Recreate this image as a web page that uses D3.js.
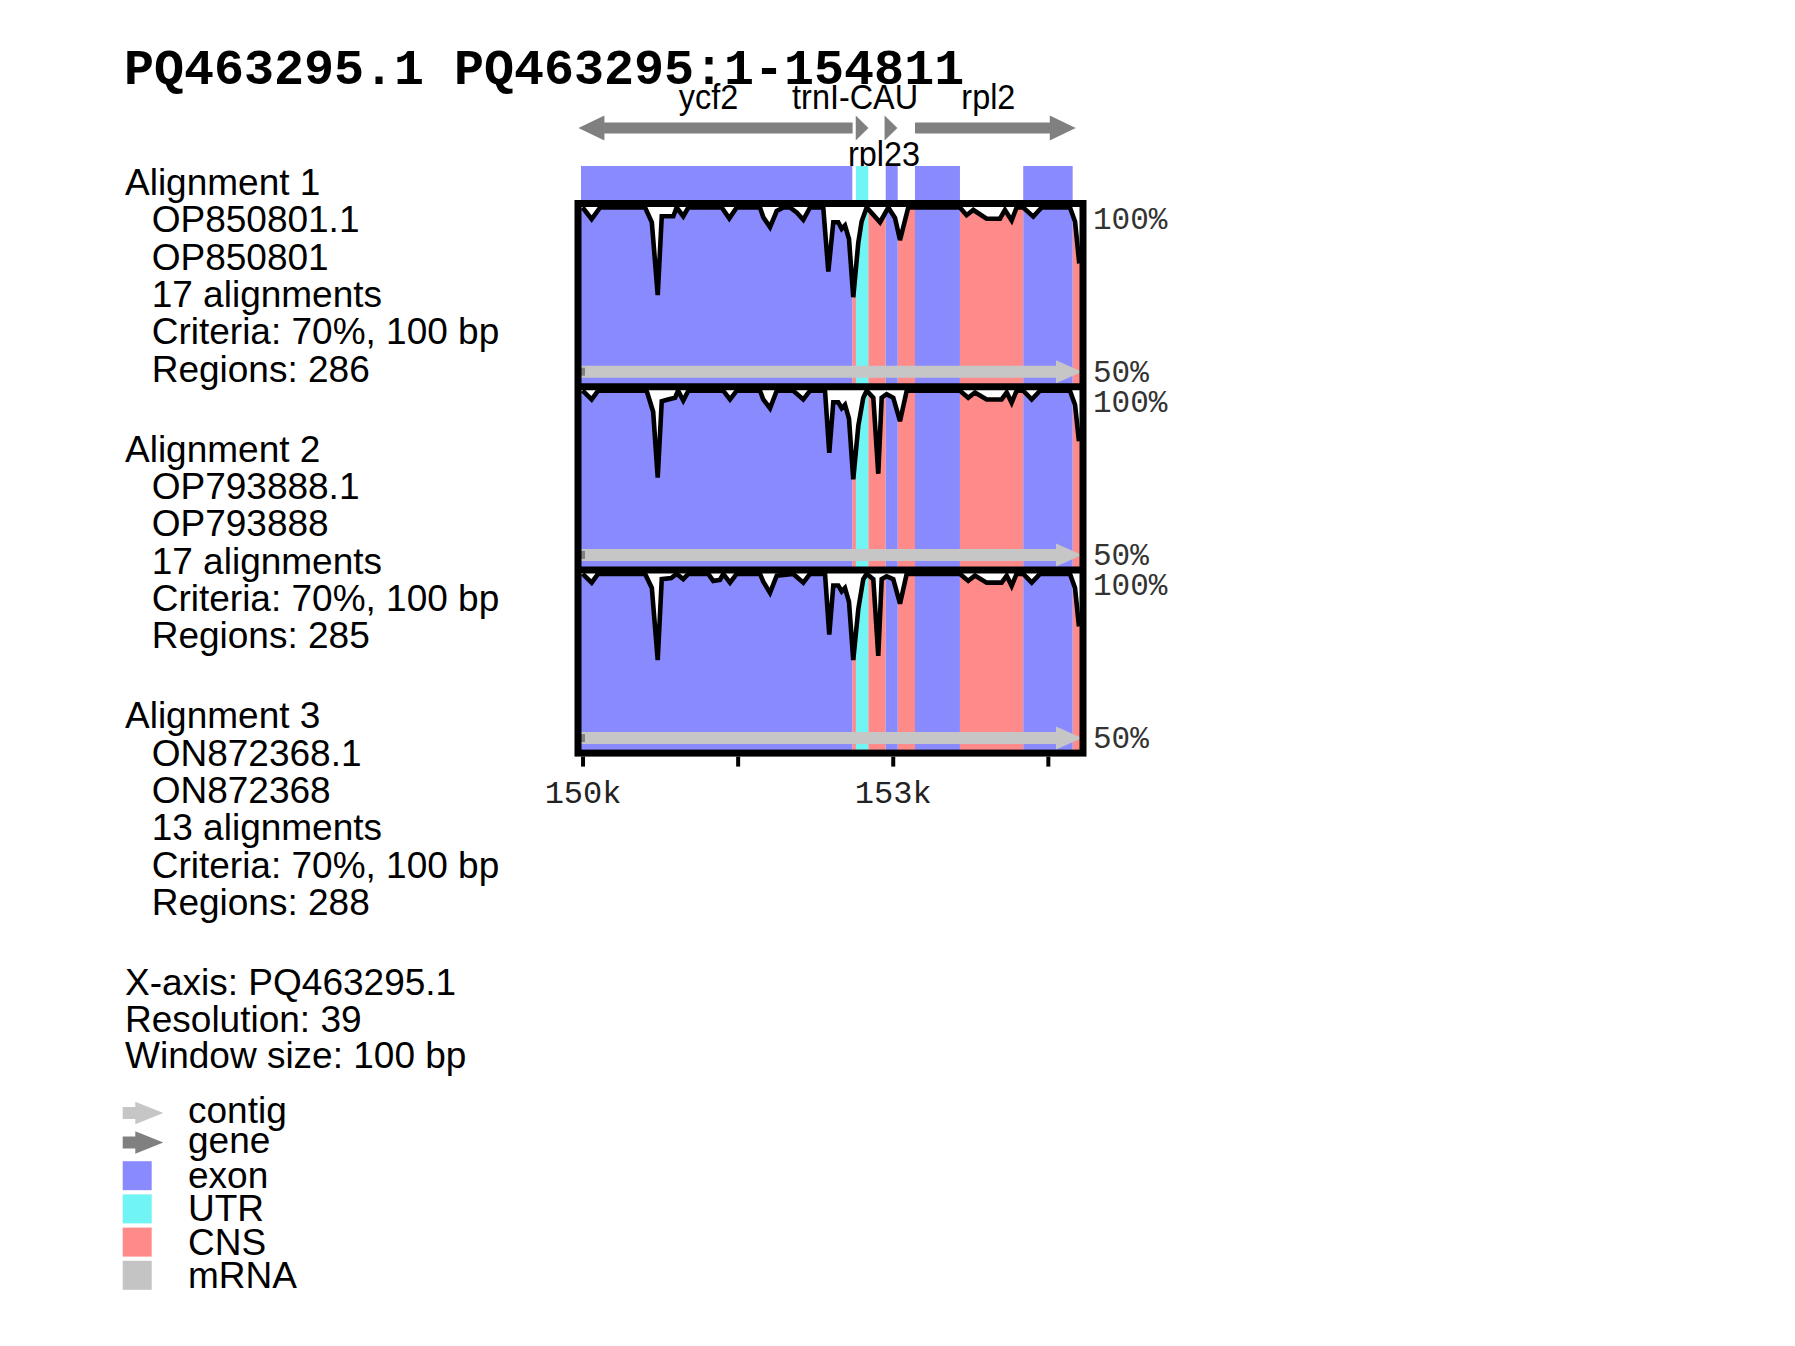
<!DOCTYPE html>
<html>
<head>
<meta charset="utf-8">
<script src="https://cdn.jsdelivr.net/npm/d3@7"></script>
<style>
  html, body { margin: 0; background: #fff; }
  svg { display: block; }
</style>
</head>
<body>
<div id="chart"></div>
<script>
// ---- data ----
const title = "PQ463295.1 PQ463295:1-154811";
const seqStart = 149985, seqEnd = 154811;
const axisTicks  = [150000, 151500, 153000, 154500];
const axisLabels = ["150k", "", "153k", ""];

const genes = [
  { name: "ycf2",     start: 149960, end: 152612, strand: -1 },
  { name: "trnI-CAU", start: 152642, end: 152765, strand: 1 },
  { name: "rpl23",    start: 152921, end: 153045, strand: 1 },
  { name: "rpl2",     start: 153215, end: 154770, strand: 1 }
];
const exons = [[149985, 152609], [152932, 153048], [153215, 153650], [154262, 154740]];
const utrs  = [[152644, 152763]];
const cns   = [[152609, 152644], [152763, 152932], [153048, 153215], [153650, 154262], [154740, 154811]];

const alignments = [
  { label: "Alignment 1", acc: "OP850801.1", name: "OP850801", count: 17, regions: 286 },
  { label: "Alignment 2", acc: "OP793888.1", name: "OP793888", count: 17, regions: 285 },
  { label: "Alignment 3", acc: "ON872368.1", name: "ON872368", count: 13, regions: 288 }
];
const criteria = "70%, 100 bp";
const footerLines = ["X-axis: PQ463295.1", "Resolution: 39", "Window size: 100 bp"];
const legendItems = ["contig", "gene", "exon", "UTR", "CNS", "mRNA"];

// conservation [position bp, % identity]
const cons1 = [[150001,100],[150088,96.7],[150170,100],[150605,100],[150670,95.8],[150727,75],[150766,97.5],[150878,97.5],[150910,100],[150974,97.5],[151023,100],[151346,100],[151419,96.9],[151491,100],[151716,100],[151748,97.2],[151813,94.4],[151878,99],[151942,100],[152006,100],[152071,98.6],[152135,96.5],[152200,100],[152328,100],[152377,81.7],[152425,95.8],[152473,95.8],[152506,93.9],[152538,94.9],[152577,91],[152618,74.4],[152667,90],[152699,96],[152748,100],[152877,95.8],[152957,100],[153022,97],[153070,90.7],[153150,100],[153650,100],[153714,97.8],[153779,99.3],[153908,96.8],[154037,96.8],[154085,99.3],[154150,96.3],[154198,100],[154262,100],[154359,97.4],[154440,100],[154714,100],[154763,96],[154804,84]];
const cons2 = [[150001,100],[150088,97.5],[150150,100],[150620,100],[150683,94],[150727,75.2],[150766,97],[150827,97.5],[150895,98],[150924,100],[150974,97.2],[151023,100],[151361,100],[151426,97.5],[151491,100],[151716,100],[151748,97.5],[151813,95],[151878,100],[152038,100],[152135,97.5],[152200,100],[152345,100],[152386,82.3],[152425,96.7],[152473,96.7],[152506,95],[152538,96],[152577,92],[152618,74.7],[152667,90],[152715,98],[152748,100],[152812,98],[152860,76.3],[152893,98],[152941,99],[153005,98],[153070,91.3],[153135,100],[153650,100],[153730,98],[153795,99.5],[153908,97.5],[154053,97.5],[154102,99.5],[154150,96.6],[154198,100],[154262,100],[154344,97.5],[154424,100],[154714,100],[154763,96],[154801,85.6]];
const cons3 = [[150001,100],[150088,97.5],[150150,100],[150605,100],[150670,96],[150727,75.4],[150766,98.5],[150857,98.8],[150910,100],[150974,98.5],[151023,100],[151216,100],[151264,98],[151329,98.3],[151361,100],[151426,97.5],[151491,100],[151716,100],[151748,97.8],[151813,94.6],[151878,99.5],[152038,100],[152135,97.5],[152200,100],[152345,100],[152386,82.7],[152425,96.7],[152473,96.7],[152506,95],[152538,96],[152577,92],[152618,75.4],[152667,90],[152715,98.5],[152748,100],[152812,98.5],[152860,76.6],[152893,98.5],[152941,99.3],[153005,98.5],[153070,91.5],[153135,100],[153650,100],[153730,98],[153795,99.5],[153908,97.5],[154053,97.5],[154102,99.5],[154150,96.6],[154198,100],[154262,100],[154344,97.5],[154424,100],[154714,100],[154763,96],[154801,85]];

// ---- layout ----
const W = 1795, H = 1346;
const color = { exon: "#8a8aff", UTR: "#70f4f4", CNS: "#ff8a8a", mRNA: "#c4c4c4", contig: "#c6c6c6", gene: "#808080" };
const sans = "'Liberation Sans', Arial, sans-serif";
const mono = "'Liberation Mono', 'Courier New', monospace";

const svg = d3.select("#chart").append("svg")
  .attr("width", W).attr("height", H)
  .attr("viewBox", [0, 0, W, H]);

const x = d3.scaleLinear().domain([seqStart, seqEnd]).range([581, 1080]);
const frameTop = 203.5, panelH = 183.2, frameL = 578, frameR = 1083;
const panels = [cons1, cons2, cons3];
const ys = panels.map((_, i) => d3.scaleLinear()
  .domain([50, 100])
  .range([frameTop + (i + 1) * panelH - 4, frameTop + i * panelH + 4]));

// title
svg.append("text")
  .attr("x", 124).attr("y", 83.5)
  .style("font-family", mono).style("font-weight", "bold").style("font-size", "50px")
  .text(title);

// gene arrows
function arrowPath(x0, x1, cy, shaftH, headH, headL, dir) {
  const len = x1 - x0, hl = Math.min(headL, len);
  if (dir > 0) {
    return `M${x0},${cy - shaftH}L${x1 - hl},${cy - shaftH}L${x1 - hl},${cy - headH}L${x1},${cy}` +
           `L${x1 - hl},${cy + headH}L${x1 - hl},${cy + shaftH}L${x0},${cy + shaftH}Z`;
  }
  return `M${x1},${cy - shaftH}L${x0 + hl},${cy - shaftH}L${x0 + hl},${cy - headH}L${x0},${cy}` +
         `L${x0 + hl},${cy + headH}L${x0 + hl},${cy + shaftH}L${x1},${cy + shaftH}Z`;
}

const geneY = 128;
svg.append("g").selectAll("path")
  .data(genes).join("path")
  .attr("d", d => arrowPath(x(d.start), x(d.end), geneY, 5.5, 12.5, 26, d.strand))
  .attr("fill", color.gene);

// gene labels: first row above the arrows, overlapping ones drop below
const rowBase = [108.8, 166];
let lastRight = -Infinity;
genes.forEach(g => {
  const cx = (x(g.start) + x(g.end)) / 2 - 7;
  const t = svg.append("text")
    .attr("text-anchor", "middle")
    .style("font-family", sans).style("font-size", "36px")
    .text(g.name);
  const w = t.node().getComputedTextLength() * 0.9;
  let row = 0;
  if (cx - w / 2 < lastRight + 4) row = 1;
  else lastRight = cx + w / 2;
  t.attr("transform", `translate(${cx},${rowBase[row]}) scale(0.9,1)`);
});

// annotation strip above the panels
const strip = svg.append("g");
strip.selectAll("rect.ex").data(exons).join("rect").attr("class", "ex")
  .attr("x", d => x(d[0])).attr("width", d => x(d[1]) - x(d[0]))
  .attr("y", 166).attr("height", 36).attr("fill", color.exon);
strip.selectAll("rect.utr").data(utrs).join("rect").attr("class", "utr")
  .attr("x", d => x(d[0])).attr("width", d => x(d[1]) - x(d[0]))
  .attr("y", 166).attr("height", 36).attr("fill", color.UTR);

// panels
const defs = svg.append("defs");
panels.forEach((data, i) => {
  const y = ys[i];
  const g = svg.append("g");
  const clipData = [[seqStart, data[0][1]], ...data, [seqEnd, data[data.length - 1][1]]];
  const area = d3.area().x(d => x(d[0])).y0(y(50) + 2).y1(d => y(d[1]));
  defs.append("clipPath").attr("id", "clip" + i)
    .append("path").attr("d", area(clipData));

  const bands = g.append("g").attr("clip-path", `url(#clip${i})`);
  [["CNS", cns], ["exon", exons], ["UTR", utrs]].forEach(([k, arr]) => {
    bands.selectAll(null).data(arr).join("rect")
      .attr("x", d => x(d[0])).attr("width", d => x(d[1]) - x(d[0]))
      .attr("y", y(100) - 5).attr("height", y(50) - y(100) + 8)
      .attr("fill", color[k]);
  });

  // contig arrow along the bottom
  const cy = y(50) - 11;
  g.append("path")
    .attr("d", arrowPath(x(seqStart), x(seqEnd) + 2, cy, 6, 11.5, 26, 1))
    .attr("fill", color.contig);
  g.append("rect")
    .attr("x", x(seqStart)).attr("y", cy - 4).attr("width", 4).attr("height", 8)
    .attr("fill", color.gene);

  // conservation curve
  g.append("path")
    .attr("d", d3.line().x(d => x(d[0])).y(d => y(d[1]))(data))
    .attr("fill", "none").attr("stroke", "#000").attr("stroke-width", 4.6);

  // percent labels
  g.append("text").attr("x", 1093).attr("y", y(100) + 21)
    .style("font-family", mono).style("font-size", "31px").attr("fill", "#333")
    .text("100%");
  g.append("text").attr("x", 1093).attr("y", y(50) - 1)
    .style("font-family", mono).style("font-size", "31px").attr("fill", "#333")
    .text("50%");
});

// frame and separators
svg.append("rect")
  .attr("x", frameL).attr("y", frameTop)
  .attr("width", frameR - frameL).attr("height", 3 * panelH)
  .attr("fill", "none").attr("stroke", "#000").attr("stroke-width", 7);
svg.append("g").selectAll("line").data([1, 2]).join("line")
  .attr("x1", frameL).attr("x2", frameR)
  .attr("y1", d => frameTop + d * panelH).attr("y2", d => frameTop + d * panelH)
  .attr("stroke", "#000").attr("stroke-width", 7);

// x axis
const axG = svg.append("g")
  .attr("transform", `translate(0,${frameTop + 3 * panelH + 3.5})`)
  .call(d3.axisBottom(x).tickValues(axisTicks).tickSize(10).tickFormat((d, i) => axisLabels[i]));
axG.select(".domain").remove();
axG.selectAll(".tick line").attr("stroke", "#000").attr("stroke-width", 4);
axG.selectAll(".tick text")
  .attr("y", 46).attr("dy", null).attr("fill", "#222")
  .style("font-family", mono).style("font-size", "32px");

// left-hand description
const info = svg.append("g").style("font-family", sans).style("font-size", "37px");
const lineH = 37.3, blockH = 266.7;
alignments.forEach((a, b) => {
  const y0 = 195 + b * blockH;
  const lines = [a.acc, a.name, `${a.count} alignments`, `Criteria: ${criteria}`, `Regions: ${a.regions}`];
  info.append("text").attr("x", 125).attr("y", y0).text(a.label);
  lines.forEach((s, k) => info.append("text").attr("x", 151.7).attr("y", y0 + (k + 1) * lineH).text(s));
});
footerLines.forEach((s, k) => info.append("text").attr("x", 125).attr("y", 995 + k * 36.7).text(s));

// legend
const leg = svg.append("g").style("font-family", sans).style("font-size", "37px");
let ly = 1113;
legendItems.forEach((name, k) => {
  const isArrow = name === "contig" || name === "gene";
  if (k > 0) ly += (isArrow ? 29.5 : 33.2);
  if (isArrow) {
    leg.append("path")
      .attr("d", arrowPath(122.7, 163.3, ly, 6, 11.3, 28, 1))
      .attr("fill", color[name]);
  } else {
    leg.append("rect")
      .attr("x", 122.7).attr("y", ly - 14.5).attr("width", 29).attr("height", 29)
      .attr("fill", color[name]);
  }
  leg.append("text").attr("x", 188).attr("y", ly + (isArrow ? 10 : 12.5)).text(name);
});
</script>
</body>
</html>
